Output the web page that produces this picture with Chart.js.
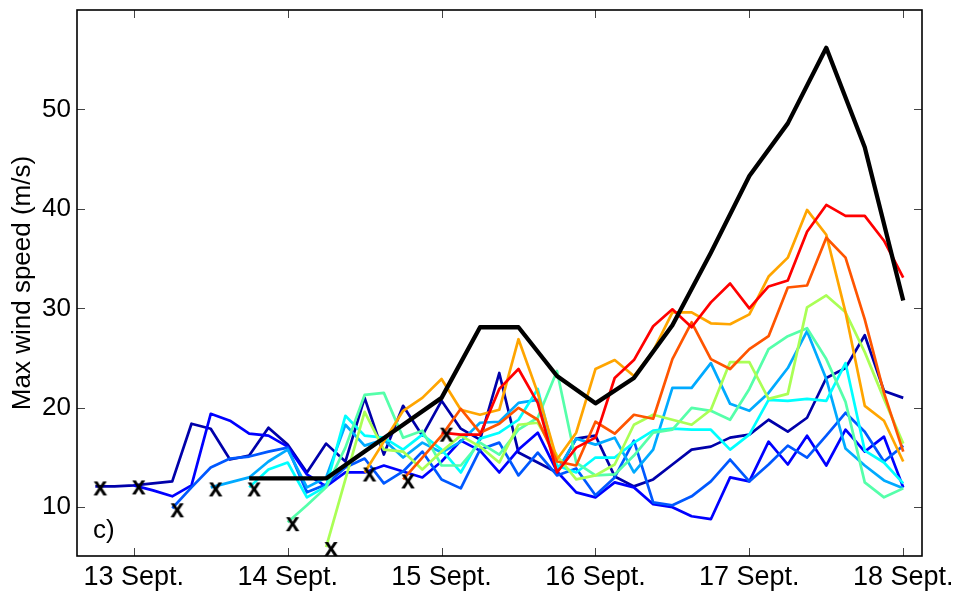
<!DOCTYPE html>
<html><head><meta charset="utf-8">
<script src="https://cdn.jsdelivr.net/npm/chart.js@4.4.1/dist/chart.umd.min.js"></script>
<style>html,body{margin:0;padding:0;background:#fff;}</style>
</head><body>
<canvas id="c" width="955" height="592"></canvas>
<script>
// ---- axis ticks ----
const dayTicks = [13, 14, 15, 16, 17, 18];
const dayTickLabels = ['13 Sept.', '14 Sept.', '15 Sept.', '16 Sept.', '17 Sept.', '18 Sept.'];
const speedTicks = [10, 20, 30, 40, 50];

// ---- forecasts: start day (Sept.) and 3-hourly max wind speed (m/s) ----
const forecastStarts = [12.75, 13.0, 13.25, 13.5, 13.75, 14.0, 14.25, 14.5, 14.75, 15.0];
const forecastStep = 0.125;
const fc1 = [12.1,12.1,12.2,12.4,12.6,18.4,17.9,14.8,15.2,18.0,16.3,13.5,16.4,14.6,21.0,15.3,20.2,17.2,20.7,17.9,16.8,23.5,15.5,14.5,13.5,16.9,17.2,13.1,12.1,12.8,14.3,15.8,16.1,17.0,17.3,18.8,17.6,19.0,23.0,24.0,27.3,21.7,21.0];
const fc2 = [12.2,11.7,11.1,12.2,19.4,18.7,17.4,17.2,16.1,13.3,12.1,13.5,13.5,14.2,13.6,13.0,14.6,16.7,15.7,13.5,15.8,17.5,13.6,11.5,11.0,12.5,12.0,10.3,10.0,9.1,8.8,13.0,12.6,16.6,14.3,17.2,14.2,17.8,15.6,17.1,12.0];
const fc3 = [9.9,12.0,14.0,14.9,15.1,15.6,16.0,11.5,12.3,14.0,14.9,12.4,13.6,15.6,12.8,11.9,15.8,16.5,13.2,15.5,13.2,13.9,11.2,13.0,16.7,10.5,10.2,11.1,12.6,14.8,12.6,14.3,16.2,15.0,17.2,19.5,17.6,14.6,16.2];
const fc4 = [12.0,12.5,13.0,14.6,15.8,12.0,13.0,18.3,16.2,16.8,15.0,16.5,15.5,16.6,18.5,18.6,20.5,20.8,13.6,16.9,16.3,17.0,13.5,15.8,22.0,22.0,24.5,20.4,19.7,21.5,24.0,27.7,22.9,15.9,14.2,12.7,11.9];
const fc5 = [12.0,13.8,14.5,11.0,12.1,19.2,17.2,17.0,15.8,17.3,15.8,13.5,16.9,17.5,18.8,21.9,14.2,13.5,15.0,15.0,16.5,17.7,17.9,17.8,17.8,15.8,17.3,20.8,20.7,20.9,20.7,24.5,15.7,14.5,12.4];
const fc6 = [8.5,10.2,12.0,16.0,21.3,21.5,17.0,17.7,14.2,14.2,16.5,15.3,17.8,19.0,23.7,14.5,13.2,13.3,15.2,17.5,17.8,20.0,19.7,18.8,21.9,25.9,27.2,28.0,24.9,20.6,12.5,11.0,11.9];
const fc7 = [6.0,12.8,19.6,15.8,15.6,13.8,15.6,17.2,16.1,14.5,18.3,18.5,15.2,12.8,13.2,14.3,18.3,19.3,18.8,18.3,19.8,24.6,24.6,20.9,21.4,30.1,31.3,29.6,25.6,20.9,16.4];
const fc8 = [13.5,16.6,19.7,21.0,22.9,19.8,19.3,19.8,26.9,21.5,14.8,17.5,23.9,24.8,23.2,25.7,29.6,29.6,28.5,28.4,29.4,33.2,35.1,39.9,37.4,29.6,20.2,18.7,14.6];
const fc9 = [12.8,15.0,17.2,19.9,17.5,18.4,20.0,18.8,14.6,14.2,18.6,17.4,19.3,18.9,24.9,28.6,24.9,23.9,25.9,27.2,32.1,32.3,37.1,35.1,28.9,21.5,15.6];
const fc10 = [17.5,17.3,17.3,21.9,23.9,20.5,13.5,16.0,17.0,23.0,24.8,28.2,29.9,28.1,30.6,32.5,30.0,32.2,32.8,37.7,40.4,39.3,39.3,36.8,33.1];
const forecastColors = ['#0000AA','#0000FF','#0058FF','#00AAFF','#00FFFF','#55FFAA','#AAFF55','#FFA500','#FF5500','#FF0000'];

// ---- observed (black) 6-hourly ----
const obsStart = 13.75;
const obsStep = 0.25;
const observed = [12.9,12.9,12.9,15.6,18.3,21.0,28.1,28.1,23.2,20.45,23.0,28.3,35.6,43.3,48.6,56.2,46.2,30.8];

const FONT = '"Liberation Sans", Arial, Helvetica, sans-serif';
Chart.defaults.font.family = FONT;
Chart.defaults.color = '#000';

const forecasts = [fc1, fc2, fc3, fc4, fc5, fc6, fc7, fc8, fc9, fc10];
const toPts = (vals, start, step) => vals.map((v, i) => ({x: start + i * step, y: v}));

function makeXMark() {
  const c = document.createElement('canvas');
  c.width = 40; c.height = 40;
  const g = c.getContext('2d');
  g.fillStyle = '#000';
  g.font = 'bold 25px ' + FONT;
  g.textAlign = 'center';
  g.textBaseline = 'alphabetic';
  g.fillText('x', 25, 29);
  return c;
}

const datasets = [];
datasets.push({
  label: 'starts',
  data: forecasts.map((f, i) => ({x: forecastStarts[i], y: f[0]})),
  showLine: false,
  pointStyle: makeXMark(),
  pointRadius: 6,
  clip: false,
  order: 0
});
datasets.push({
  label: 'observed',
  data: toPts(observed, obsStart, obsStep),
  borderColor: '#000',
  borderWidth: 4.3,
  pointRadius: 0,
  borderJoinStyle: 'round',
  order: 1
});
forecasts.forEach((f, i) => {
  datasets.push({
    label: 'fc' + (i + 1),
    data: toPts(f, forecastStarts[i], forecastStep),
    borderColor: forecastColors[i],
    borderWidth: 2.7,
    pointRadius: 0,
    borderJoinStyle: 'round',
    order: 2 + (forecasts.length - 1 - i)
  });
});

const framePlugin = {
  id: 'frame',
  afterDraw(chart) {
    const {ctx, chartArea: {left, right, top, bottom}, scales: {x, y}} = chart;
    ctx.save();
    ctx.strokeStyle = '#444';
    ctx.lineWidth = 1;
    ctx.beginPath();
    dayTicks.forEach(v => {
      const px = Math.round(x.getPixelForValue(v)) + 0.5;
      ctx.moveTo(px, bottom); ctx.lineTo(px, bottom - 8);
      ctx.moveTo(px, top); ctx.lineTo(px, top + 8);
    });
    speedTicks.forEach(v => {
      const py = Math.round(y.getPixelForValue(v)) + 0.5;
      ctx.moveTo(left, py); ctx.lineTo(left + 8, py);
      ctx.moveTo(right, py); ctx.lineTo(right - 8, py);
    });
    ctx.stroke();
    ctx.strokeStyle = '#000';
    ctx.lineWidth = 1.6;
    ctx.strokeRect(left, top, right - left, bottom - top);
    ctx.fillStyle = '#000';
    ctx.font = '26px ' + FONT;
    ctx.textAlign = 'left';
    ctx.textBaseline = 'middle';
    ctx.fillText('c)', left + 16, bottom - 25);
    ctx.restore();
  }
};

new Chart(document.getElementById('c'), {
  type: 'line',
  data: {datasets},
  options: {
    responsive: false,
    animation: false,
    devicePixelRatio: 1,
    layout: {padding: {left: 0, right: 33, top: 10, bottom: 0}},
    plugins: {legend: {display: false}, tooltip: {enabled: false}},
    scales: {
      x: {
        type: 'linear',
        min: 12.631,
        max: 18.122,
        grid: {display: false, drawTicks: false},
        border: {display: false},
        afterBuildTicks: s => { s.ticks = dayTicks.map(v => ({value: v})); },
        afterFit: s => { s.height = 36; s.paddingLeft = 0; s.paddingRight = 0; },
        ticks: {
          autoSkip: false,
          maxRotation: 0,
          padding: 5,
          font: {size: 27},
          color: '#000',
          callback: v => dayTickLabels[dayTicks.indexOf(v)]
        }
      },
      y: {
        type: 'linear',
        min: 5.1,
        max: 60.0,
        grid: {display: false, drawTicks: false},
        border: {display: false},
        afterBuildTicks: s => { s.ticks = speedTicks.map(v => ({value: v})); },
        afterFit: s => { s.width = 77; s.paddingTop = 0; s.paddingBottom = 0; },
        ticks: {padding: 6, font: {size: 26}, color: '#000'},
        title: {
          display: true,
          text: 'Max wind speed (m/s)',
          font: {size: 26},
          color: '#000',
          padding: {top: 7, bottom: 0}
        }
      }
    }
  },
  plugins: [framePlugin]
});
</script>
</body></html>
